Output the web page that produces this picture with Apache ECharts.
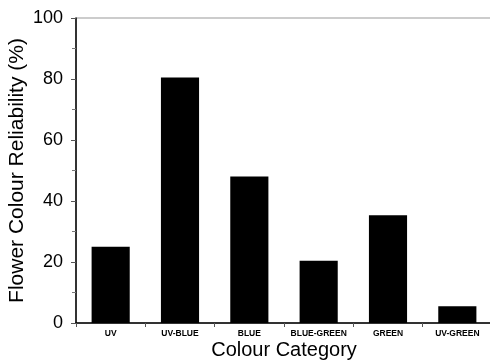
<!DOCTYPE html>
<html><head><meta charset="utf-8">
<script src="https://cdn.jsdelivr.net/npm/echarts@6/dist/echarts.min.js"></script>
<style>html,body{margin:0;padding:0;background:#fff}#c{width:490px;height:360px}</style>
</head><body><div id="c"></div>
<script>
var categories = ['UV','UV-BLUE','BLUE','BLUE-GREEN','GREEN','UV-GREEN'];
var values = [25, 80.5, 48, 20.4, 35.3, 5.5];
var yTicks = [0, 20, 40, 60, 80, 100];

var chart = echarts.init(document.getElementById('c'));
chart.setOption({
  animation: false,
  grid: {left: 76, top: 18, width: 416, bottom: 37, show: true, borderColor: '#999', borderWidth: 1,
    containLabel: false, outerBoundsMode: 'none'},
  xAxis: {
    type: 'category', data: categories,
    axisLine: {lineStyle: {color: '#000', width: 1.5}},
    axisTick: {show: true, length: 4, lineStyle: {color: '#555'}},
    axisLabel: {interval: 0, hideOverlap: false, fontFamily: 'Arial, Liberation Sans', fontWeight: 'bold', fontSize: 8.5, color: '#000', margin: 6},
    name: 'Colour Category', nameLocation: 'middle', nameGap: 17, nameMoveOverlap: false,
    nameTextStyle: {fontFamily: 'Arial, Liberation Sans', fontSize: 20, color: '#000', verticalAlign: 'top', lineHeight: 20}
  },
  yAxis: {
    type: 'value', min: 0, max: 100, interval: 20,
    axisLine: {show: true, lineStyle: {color: '#000', width: 1.5}},
    axisTick: {show: true, length: 5, lineStyle: {color: '#555'}},
    minorTick: {show: true, splitNumber: 2, length: 4, lineStyle: {color: '#777'}},
    splitLine: {show: false},
    axisLabel: {fontFamily: 'Arial, Liberation Sans', fontSize: 18, color: '#000', margin: 13,
      formatter: function(v){ return yTicks.indexOf(v) >= 0 ? String(v) : ''; }},
    name: 'Flower Colour Reliability (%)', nameLocation: 'middle', nameGap: 48, nameMoveOverlap: false,
    nameTextStyle: {fontFamily: 'Arial, Liberation Sans', fontSize: 21, color: '#000'}
  },
  series: [{
    type: 'bar', data: values, barCategoryGap: '45%',
    itemStyle: {color: '#000'}
  }]
});
</script></body></html>
